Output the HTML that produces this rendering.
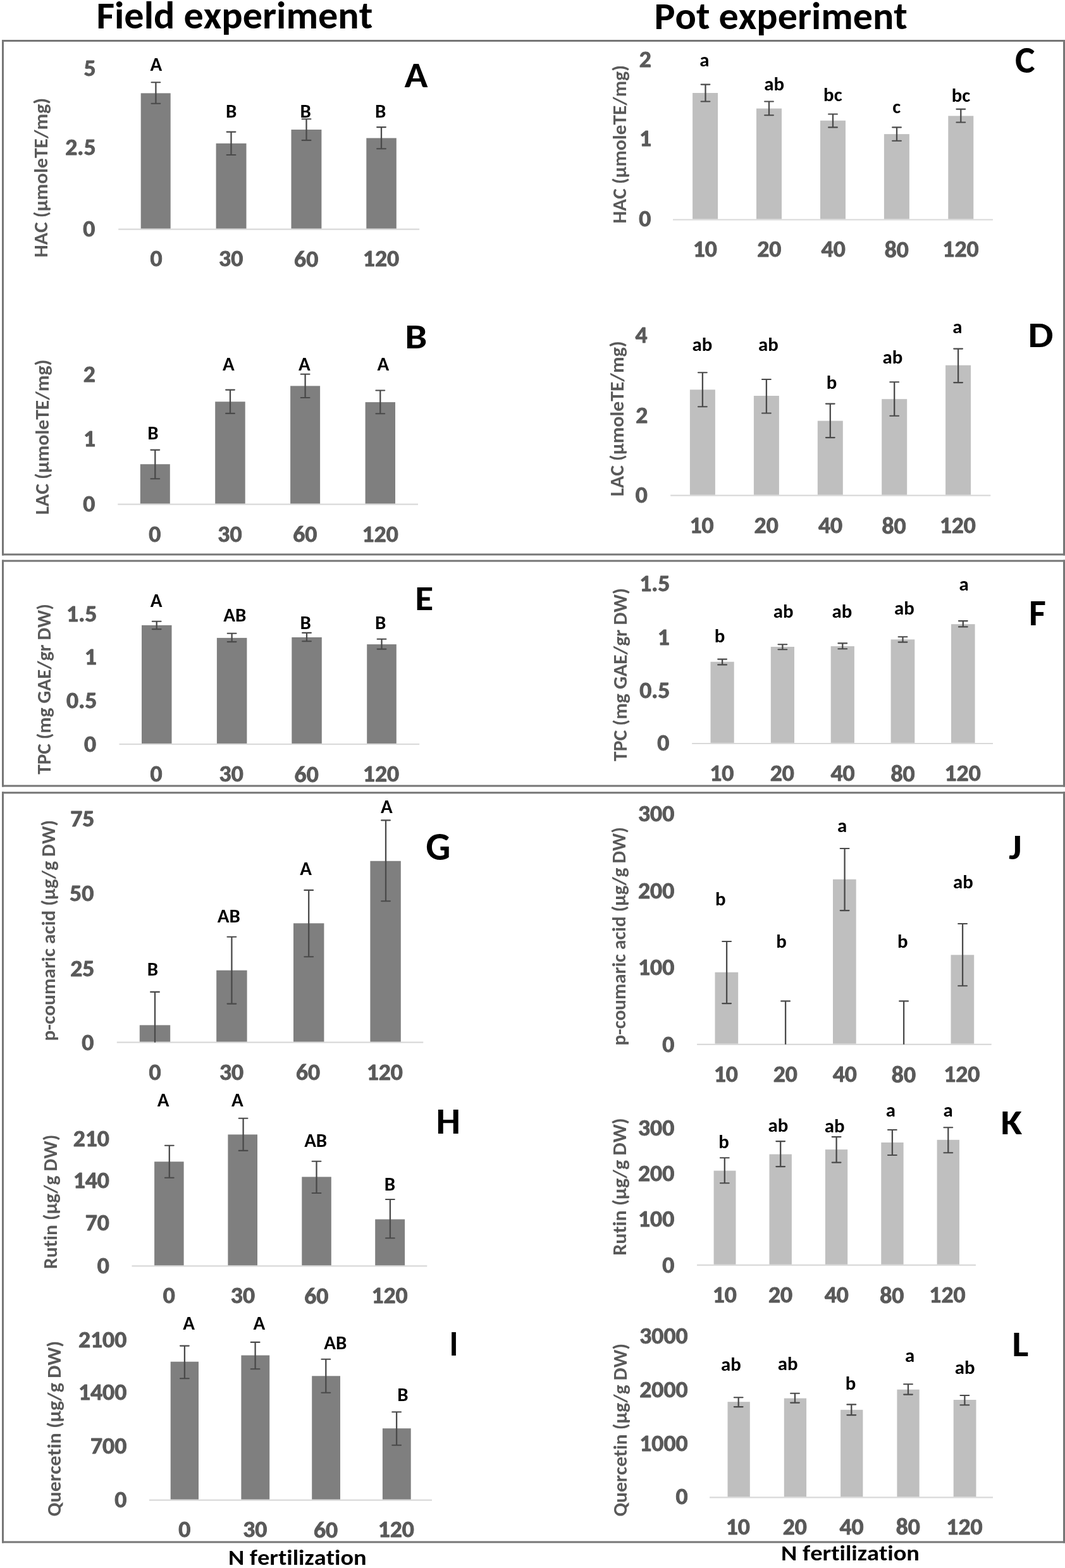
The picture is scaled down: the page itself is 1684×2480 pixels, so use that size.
<!DOCTYPE html>
<html><head><meta charset="utf-8"><title>Field and pot experiment</title>
<style>
html,body{margin:0;padding:0;background:#fff;}
body{width:1684px;height:2480px;overflow:hidden;}
svg{display:block;font-family:Carlito,Calibri,"Liberation Sans",sans-serif;font-kerning:none;font-variant-ligatures:none;}
</style></head><body>
<svg width="1684" height="2480" viewBox="0 0 1684 2480">
<rect x="0" y="0" width="1684" height="2480" fill="#fff"/>
<line x1="187.20" y1="362.60" x2="663.20" y2="362.60" stroke="#d9d9d9" stroke-width="2.20" stroke-linecap="butt"/>
<rect x="222.70" y="147.40" width="47.00" height="214.10" fill="#7f7f7f"/>
<rect x="341.60" y="226.80" width="47.90" height="134.70" fill="#7f7f7f"/>
<rect x="460.50" y="205.00" width="47.90" height="156.50" fill="#7f7f7f"/>
<rect x="579.30" y="218.40" width="47.50" height="143.10" fill="#7f7f7f"/>
<line x1="246.40" y1="130.30" x2="246.40" y2="163.70" stroke="#4a4a4a" stroke-width="2.30" stroke-linecap="butt"/>
<line x1="239.50" y1="130.30" x2="253.30" y2="130.30" stroke="#4a4a4a" stroke-width="2.10" stroke-linecap="round"/>
<line x1="239.50" y1="163.70" x2="253.30" y2="163.70" stroke="#4a4a4a" stroke-width="2.10" stroke-linecap="round"/>
<line x1="365.50" y1="208.60" x2="365.50" y2="245.00" stroke="#4a4a4a" stroke-width="2.30" stroke-linecap="butt"/>
<line x1="358.60" y1="208.60" x2="372.40" y2="208.60" stroke="#4a4a4a" stroke-width="2.10" stroke-linecap="round"/>
<line x1="358.60" y1="245.00" x2="372.40" y2="245.00" stroke="#4a4a4a" stroke-width="2.10" stroke-linecap="round"/>
<line x1="484.50" y1="188.20" x2="484.50" y2="221.90" stroke="#4a4a4a" stroke-width="2.30" stroke-linecap="butt"/>
<line x1="477.60" y1="188.20" x2="491.40" y2="188.20" stroke="#4a4a4a" stroke-width="2.10" stroke-linecap="round"/>
<line x1="477.60" y1="221.90" x2="491.40" y2="221.90" stroke="#4a4a4a" stroke-width="2.10" stroke-linecap="round"/>
<line x1="603.00" y1="201.10" x2="603.00" y2="235.20" stroke="#4a4a4a" stroke-width="2.30" stroke-linecap="butt"/>
<line x1="596.10" y1="201.10" x2="609.90" y2="201.10" stroke="#4a4a4a" stroke-width="2.10" stroke-linecap="round"/>
<line x1="596.10" y1="235.20" x2="609.90" y2="235.20" stroke="#4a4a4a" stroke-width="2.10" stroke-linecap="round"/>
<text x="132.40" y="120.21" font-size="36.50" font-weight="700" fill="#595959" textLength="19.05" lengthAdjust="spacingAndGlyphs" stroke="#595959" stroke-width="0.90" stroke-linejoin="round">5</text>
<text x="103.31" y="244.94" font-size="36.50" font-weight="700" fill="#595959" textLength="48.15" lengthAdjust="spacingAndGlyphs" stroke="#595959" stroke-width="0.90" stroke-linejoin="round">2.5</text>
<text x="131.27" y="373.64" font-size="36.50" font-weight="700" fill="#595959" textLength="19.05" lengthAdjust="spacingAndGlyphs" stroke="#595959" stroke-width="0.90" stroke-linejoin="round">0</text>
<text x="237.47" y="421.44" font-size="36.50" font-weight="700" fill="#595959" textLength="19.05" lengthAdjust="spacingAndGlyphs" stroke="#595959" stroke-width="0.90" stroke-linejoin="round">0</text>
<text x="346.13" y="421.44" font-size="36.50" font-weight="700" fill="#595959" textLength="38.11" lengthAdjust="spacingAndGlyphs" stroke="#595959" stroke-width="0.90" stroke-linejoin="round">30</text>
<text x="465.12" y="421.92" font-size="36.50" font-weight="700" fill="#595959" textLength="38.11" lengthAdjust="spacingAndGlyphs" stroke="#595959" stroke-width="0.90" stroke-linejoin="round">60</text>
<text x="573.85" y="421.44" font-size="36.50" font-weight="700" fill="#595959" textLength="57.16" lengthAdjust="spacingAndGlyphs" stroke="#595959" stroke-width="0.90" stroke-linejoin="round">120</text>
<text x="237.62" y="111.90" font-size="30.00" font-weight="700" fill="#000" textLength="18.72" lengthAdjust="spacingAndGlyphs">A</text>
<text x="356.95" y="186.00" font-size="30.00" font-weight="700" fill="#000" textLength="17.32" lengthAdjust="spacingAndGlyphs">B</text>
<text x="474.45" y="186.00" font-size="30.00" font-weight="700" fill="#000" textLength="17.32" lengthAdjust="spacingAndGlyphs">B</text>
<text x="592.95" y="186.00" font-size="30.00" font-weight="700" fill="#000" textLength="17.32" lengthAdjust="spacingAndGlyphs">B</text>
<text x="639.58" y="137.60" font-size="56.75" font-weight="700" fill="#000" textLength="36.95" lengthAdjust="spacingAndGlyphs">A</text>
<text transform="translate(75.00 407.14) rotate(-90)" x="0" y="0" font-size="30.00" fill="#595959"><tspan font-weight="700" textLength="252.27" lengthAdjust="spacingAndGlyphs">HAC (µmoleTE/mg)</tspan></text>
<line x1="186.30" y1="797.60" x2="661.00" y2="797.60" stroke="#d9d9d9" stroke-width="2.20" stroke-linecap="butt"/>
<rect x="221.80" y="734.20" width="47.00" height="62.30" fill="#7f7f7f"/>
<rect x="340.20" y="635.30" width="47.50" height="161.20" fill="#7f7f7f"/>
<rect x="459.10" y="610.40" width="47.00" height="186.10" fill="#7f7f7f"/>
<rect x="577.60" y="636.10" width="47.40" height="160.40" fill="#7f7f7f"/>
<line x1="245.30" y1="711.60" x2="245.30" y2="757.30" stroke="#4a4a4a" stroke-width="2.30" stroke-linecap="butt"/>
<line x1="238.40" y1="711.60" x2="252.20" y2="711.60" stroke="#4a4a4a" stroke-width="2.10" stroke-linecap="round"/>
<line x1="238.40" y1="757.30" x2="252.20" y2="757.30" stroke="#4a4a4a" stroke-width="2.10" stroke-linecap="round"/>
<line x1="364.00" y1="616.60" x2="364.00" y2="653.90" stroke="#4a4a4a" stroke-width="2.30" stroke-linecap="butt"/>
<line x1="357.10" y1="616.60" x2="370.90" y2="616.60" stroke="#4a4a4a" stroke-width="2.10" stroke-linecap="round"/>
<line x1="357.10" y1="653.90" x2="370.90" y2="653.90" stroke="#4a4a4a" stroke-width="2.10" stroke-linecap="round"/>
<line x1="482.60" y1="591.80" x2="482.60" y2="629.00" stroke="#4a4a4a" stroke-width="2.30" stroke-linecap="butt"/>
<line x1="475.70" y1="591.80" x2="489.50" y2="591.80" stroke="#4a4a4a" stroke-width="2.10" stroke-linecap="round"/>
<line x1="475.70" y1="629.00" x2="489.50" y2="629.00" stroke="#4a4a4a" stroke-width="2.10" stroke-linecap="round"/>
<line x1="601.30" y1="617.50" x2="601.30" y2="654.30" stroke="#4a4a4a" stroke-width="2.30" stroke-linecap="butt"/>
<line x1="594.40" y1="617.50" x2="608.20" y2="617.50" stroke="#4a4a4a" stroke-width="2.10" stroke-linecap="round"/>
<line x1="594.40" y1="654.30" x2="608.20" y2="654.30" stroke="#4a4a4a" stroke-width="2.10" stroke-linecap="round"/>
<text x="131.80" y="603.87" font-size="36.50" font-weight="700" fill="#595959" textLength="19.05" lengthAdjust="spacingAndGlyphs" stroke="#595959" stroke-width="0.90" stroke-linejoin="round">2</text>
<text x="131.91" y="705.75" font-size="36.50" font-weight="700" fill="#595959" textLength="19.05" lengthAdjust="spacingAndGlyphs" stroke="#595959" stroke-width="0.90" stroke-linejoin="round">1</text>
<text x="131.27" y="808.64" font-size="36.50" font-weight="700" fill="#595959" textLength="19.05" lengthAdjust="spacingAndGlyphs" stroke="#595959" stroke-width="0.90" stroke-linejoin="round">0</text>
<text x="235.37" y="856.64" font-size="36.50" font-weight="700" fill="#595959" textLength="19.05" lengthAdjust="spacingAndGlyphs" stroke="#595959" stroke-width="0.90" stroke-linejoin="round">0</text>
<text x="344.33" y="856.64" font-size="36.50" font-weight="700" fill="#595959" textLength="38.11" lengthAdjust="spacingAndGlyphs" stroke="#595959" stroke-width="0.90" stroke-linejoin="round">30</text>
<text x="463.32" y="857.12" font-size="36.50" font-weight="700" fill="#595959" textLength="38.11" lengthAdjust="spacingAndGlyphs" stroke="#595959" stroke-width="0.90" stroke-linejoin="round">60</text>
<text x="572.55" y="856.64" font-size="36.50" font-weight="700" fill="#595959" textLength="57.16" lengthAdjust="spacingAndGlyphs" stroke="#595959" stroke-width="0.90" stroke-linejoin="round">120</text>
<text x="233.15" y="694.70" font-size="30.00" font-weight="700" fill="#000" textLength="17.32" lengthAdjust="spacingAndGlyphs">B</text>
<text x="352.12" y="585.60" font-size="30.00" font-weight="700" fill="#000" textLength="18.72" lengthAdjust="spacingAndGlyphs">A</text>
<text x="471.92" y="585.60" font-size="30.00" font-weight="700" fill="#000" textLength="18.72" lengthAdjust="spacingAndGlyphs">A</text>
<text x="596.62" y="585.60" font-size="30.00" font-weight="700" fill="#000" textLength="18.72" lengthAdjust="spacingAndGlyphs">A</text>
<text x="640.36" y="551.00" font-size="54.75" font-weight="700" fill="#000" textLength="35.08" lengthAdjust="spacingAndGlyphs">B</text>
<text transform="translate(77.40 814.27) rotate(-90)" x="0" y="0" font-size="30.00" fill="#595959"><tspan font-weight="700" textLength="245.60" lengthAdjust="spacingAndGlyphs">LAC (µmoleTE/mg)</tspan></text>
<line x1="1064.00" y1="347.50" x2="1570.00" y2="347.50" stroke="#d9d9d9" stroke-width="2.20" stroke-linecap="butt"/>
<rect x="1095.10" y="147.00" width="40.00" height="199.40" fill="#bfbfbf"/>
<rect x="1196.00" y="171.60" width="40.00" height="174.80" fill="#bfbfbf"/>
<rect x="1297.00" y="190.70" width="40.00" height="155.70" fill="#bfbfbf"/>
<rect x="1397.90" y="212.10" width="40.00" height="134.30" fill="#bfbfbf"/>
<rect x="1499.30" y="183.30" width="40.00" height="163.10" fill="#bfbfbf"/>
<line x1="1115.50" y1="133.60" x2="1115.50" y2="160.50" stroke="#4a4a4a" stroke-width="2.30" stroke-linecap="butt"/>
<line x1="1108.60" y1="133.60" x2="1122.40" y2="133.60" stroke="#4a4a4a" stroke-width="2.10" stroke-linecap="round"/>
<line x1="1108.60" y1="160.50" x2="1122.40" y2="160.50" stroke="#4a4a4a" stroke-width="2.10" stroke-linecap="round"/>
<line x1="1216.00" y1="160.50" x2="1216.00" y2="182.30" stroke="#4a4a4a" stroke-width="2.30" stroke-linecap="butt"/>
<line x1="1209.10" y1="160.50" x2="1222.90" y2="160.50" stroke="#4a4a4a" stroke-width="2.10" stroke-linecap="round"/>
<line x1="1209.10" y1="182.30" x2="1222.90" y2="182.30" stroke="#4a4a4a" stroke-width="2.10" stroke-linecap="round"/>
<line x1="1317.00" y1="180.50" x2="1317.00" y2="201.40" stroke="#4a4a4a" stroke-width="2.30" stroke-linecap="butt"/>
<line x1="1310.10" y1="180.50" x2="1323.90" y2="180.50" stroke="#4a4a4a" stroke-width="2.10" stroke-linecap="round"/>
<line x1="1310.10" y1="201.40" x2="1323.90" y2="201.40" stroke="#4a4a4a" stroke-width="2.10" stroke-linecap="round"/>
<line x1="1418.00" y1="201.40" x2="1418.00" y2="222.80" stroke="#4a4a4a" stroke-width="2.30" stroke-linecap="butt"/>
<line x1="1411.10" y1="201.40" x2="1424.90" y2="201.40" stroke="#4a4a4a" stroke-width="2.10" stroke-linecap="round"/>
<line x1="1411.10" y1="222.80" x2="1424.90" y2="222.80" stroke="#4a4a4a" stroke-width="2.10" stroke-linecap="round"/>
<line x1="1519.30" y1="172.60" x2="1519.30" y2="193.50" stroke="#4a4a4a" stroke-width="2.30" stroke-linecap="butt"/>
<line x1="1512.40" y1="172.60" x2="1526.20" y2="172.60" stroke="#4a4a4a" stroke-width="2.10" stroke-linecap="round"/>
<line x1="1512.40" y1="193.50" x2="1526.20" y2="193.50" stroke="#4a4a4a" stroke-width="2.10" stroke-linecap="round"/>
<text x="1010.80" y="105.67" font-size="36.50" font-weight="700" fill="#595959" textLength="19.05" lengthAdjust="spacingAndGlyphs" stroke="#595959" stroke-width="0.90" stroke-linejoin="round">2</text>
<text x="1010.91" y="231.15" font-size="36.50" font-weight="700" fill="#595959" textLength="19.05" lengthAdjust="spacingAndGlyphs" stroke="#595959" stroke-width="0.90" stroke-linejoin="round">1</text>
<text x="1010.27" y="358.14" font-size="36.50" font-weight="700" fill="#595959" textLength="19.05" lengthAdjust="spacingAndGlyphs" stroke="#595959" stroke-width="0.90" stroke-linejoin="round">0</text>
<text x="1095.67" y="406.04" font-size="36.50" font-weight="700" fill="#595959" textLength="38.11" lengthAdjust="spacingAndGlyphs" stroke="#595959" stroke-width="0.90" stroke-linejoin="round">10</text>
<text x="1197.20" y="406.04" font-size="36.50" font-weight="700" fill="#595959" textLength="38.11" lengthAdjust="spacingAndGlyphs" stroke="#595959" stroke-width="0.90" stroke-linejoin="round">20</text>
<text x="1298.59" y="406.04" font-size="36.50" font-weight="700" fill="#595959" textLength="38.11" lengthAdjust="spacingAndGlyphs" stroke="#595959" stroke-width="0.90" stroke-linejoin="round">40</text>
<text x="1398.67" y="406.67" font-size="36.50" font-weight="700" fill="#595959" textLength="38.11" lengthAdjust="spacingAndGlyphs" stroke="#595959" stroke-width="0.90" stroke-linejoin="round">80</text>
<text x="1490.35" y="406.04" font-size="36.50" font-weight="700" fill="#595959" textLength="57.16" lengthAdjust="spacingAndGlyphs" stroke="#595959" stroke-width="0.90" stroke-linejoin="round">120</text>
<text x="1106.32" y="105.10" font-size="30.00" font-weight="700" fill="#000" textLength="15.25" lengthAdjust="spacingAndGlyphs">a</text>
<text x="1208.21" y="142.60" font-size="30.00" font-weight="700" fill="#000" textLength="31.84" lengthAdjust="spacingAndGlyphs">ab</text>
<text x="1302.07" y="159.70" font-size="30.00" font-weight="700" fill="#000" textLength="29.51" lengthAdjust="spacingAndGlyphs">bc</text>
<text x="1411.18" y="179.10" font-size="30.00" font-weight="700" fill="#000" textLength="12.93" lengthAdjust="spacingAndGlyphs">c</text>
<text x="1504.67" y="160.50" font-size="30.00" font-weight="700" fill="#000" textLength="29.51" lengthAdjust="spacingAndGlyphs">bc</text>
<text x="1604.97" y="114.98" font-size="61.12" font-weight="700" fill="#000" textLength="31.64" lengthAdjust="spacingAndGlyphs">C</text>
<text transform="translate(990.40 353.53) rotate(-90)" x="0" y="0" font-size="30.00" fill="#595959"><tspan font-weight="700" textLength="250.55" lengthAdjust="spacingAndGlyphs">HAC (µmoleTE/mg)</tspan></text>
<line x1="1060.20" y1="783.70" x2="1566.30" y2="783.70" stroke="#d9d9d9" stroke-width="2.20" stroke-linecap="butt"/>
<rect x="1090.90" y="616.30" width="40.00" height="166.30" fill="#bfbfbf"/>
<rect x="1191.90" y="626.00" width="40.00" height="156.60" fill="#bfbfbf"/>
<rect x="1292.80" y="665.60" width="40.00" height="117.00" fill="#bfbfbf"/>
<rect x="1394.20" y="631.20" width="40.00" height="151.40" fill="#bfbfbf"/>
<rect x="1495.10" y="577.70" width="40.00" height="204.90" fill="#bfbfbf"/>
<line x1="1110.90" y1="589.30" x2="1110.90" y2="643.30" stroke="#4a4a4a" stroke-width="2.30" stroke-linecap="butt"/>
<line x1="1104.00" y1="589.30" x2="1117.80" y2="589.30" stroke="#4a4a4a" stroke-width="2.10" stroke-linecap="round"/>
<line x1="1104.00" y1="643.30" x2="1117.80" y2="643.30" stroke="#4a4a4a" stroke-width="2.10" stroke-linecap="round"/>
<line x1="1211.90" y1="600.00" x2="1211.90" y2="653.50" stroke="#4a4a4a" stroke-width="2.30" stroke-linecap="butt"/>
<line x1="1205.00" y1="600.00" x2="1218.80" y2="600.00" stroke="#4a4a4a" stroke-width="2.10" stroke-linecap="round"/>
<line x1="1205.00" y1="653.50" x2="1218.80" y2="653.50" stroke="#4a4a4a" stroke-width="2.10" stroke-linecap="round"/>
<line x1="1312.80" y1="638.60" x2="1312.80" y2="692.10" stroke="#4a4a4a" stroke-width="2.30" stroke-linecap="butt"/>
<line x1="1305.90" y1="638.60" x2="1319.70" y2="638.60" stroke="#4a4a4a" stroke-width="2.10" stroke-linecap="round"/>
<line x1="1305.90" y1="692.10" x2="1319.70" y2="692.10" stroke="#4a4a4a" stroke-width="2.10" stroke-linecap="round"/>
<line x1="1414.20" y1="604.20" x2="1414.20" y2="657.70" stroke="#4a4a4a" stroke-width="2.30" stroke-linecap="butt"/>
<line x1="1407.30" y1="604.20" x2="1421.10" y2="604.20" stroke="#4a4a4a" stroke-width="2.10" stroke-linecap="round"/>
<line x1="1407.30" y1="657.70" x2="1421.10" y2="657.70" stroke="#4a4a4a" stroke-width="2.10" stroke-linecap="round"/>
<line x1="1515.10" y1="551.60" x2="1515.10" y2="605.10" stroke="#4a4a4a" stroke-width="2.30" stroke-linecap="butt"/>
<line x1="1508.20" y1="551.60" x2="1522.00" y2="551.60" stroke="#4a4a4a" stroke-width="2.10" stroke-linecap="round"/>
<line x1="1508.20" y1="605.10" x2="1522.00" y2="605.10" stroke="#4a4a4a" stroke-width="2.10" stroke-linecap="round"/>
<text x="1004.56" y="541.84" font-size="36.50" font-weight="700" fill="#595959" textLength="19.05" lengthAdjust="spacingAndGlyphs" stroke="#595959" stroke-width="0.90" stroke-linejoin="round">4</text>
<text x="1005.30" y="668.87" font-size="36.50" font-weight="700" fill="#595959" textLength="19.05" lengthAdjust="spacingAndGlyphs" stroke="#595959" stroke-width="0.90" stroke-linejoin="round">2</text>
<text x="1004.77" y="795.34" font-size="36.50" font-weight="700" fill="#595959" textLength="19.05" lengthAdjust="spacingAndGlyphs" stroke="#595959" stroke-width="0.90" stroke-linejoin="round">0</text>
<text x="1090.57" y="843.14" font-size="36.50" font-weight="700" fill="#595959" textLength="38.11" lengthAdjust="spacingAndGlyphs" stroke="#595959" stroke-width="0.90" stroke-linejoin="round">10</text>
<text x="1192.60" y="843.14" font-size="36.50" font-weight="700" fill="#595959" textLength="38.11" lengthAdjust="spacingAndGlyphs" stroke="#595959" stroke-width="0.90" stroke-linejoin="round">20</text>
<text x="1293.99" y="843.14" font-size="36.50" font-weight="700" fill="#595959" textLength="38.11" lengthAdjust="spacingAndGlyphs" stroke="#595959" stroke-width="0.90" stroke-linejoin="round">40</text>
<text x="1394.47" y="843.77" font-size="36.50" font-weight="700" fill="#595959" textLength="38.11" lengthAdjust="spacingAndGlyphs" stroke="#595959" stroke-width="0.90" stroke-linejoin="round">80</text>
<text x="1485.65" y="843.14" font-size="36.50" font-weight="700" fill="#595959" textLength="57.16" lengthAdjust="spacingAndGlyphs" stroke="#595959" stroke-width="0.90" stroke-linejoin="round">120</text>
<text x="1094.51" y="555.30" font-size="30.00" font-weight="700" fill="#000" textLength="31.84" lengthAdjust="spacingAndGlyphs">ab</text>
<text x="1199.11" y="555.30" font-size="30.00" font-weight="700" fill="#000" textLength="31.84" lengthAdjust="spacingAndGlyphs">ab</text>
<text x="1306.85" y="614.90" font-size="30.00" font-weight="700" fill="#000" textLength="16.58" lengthAdjust="spacingAndGlyphs">b</text>
<text x="1395.41" y="574.90" font-size="30.00" font-weight="700" fill="#000" textLength="31.84" lengthAdjust="spacingAndGlyphs">ab</text>
<text x="1506.32" y="527.40" font-size="30.00" font-weight="700" fill="#000" textLength="15.25" lengthAdjust="spacingAndGlyphs">a</text>
<text x="1625.40" y="548.80" font-size="55.83" font-weight="700" fill="#000" textLength="40.06" lengthAdjust="spacingAndGlyphs">D</text>
<text transform="translate(986.00 785.37) rotate(-90)" x="0" y="0" font-size="30.00" fill="#595959"><tspan font-weight="700" textLength="245.90" lengthAdjust="spacingAndGlyphs">LAC (µmoleTE/mg)</tspan></text>
<line x1="188.50" y1="1177.00" x2="663.20" y2="1177.00" stroke="#d9d9d9" stroke-width="2.20" stroke-linecap="butt"/>
<rect x="224.00" y="988.90" width="47.50" height="187.00" fill="#7f7f7f"/>
<rect x="342.90" y="1008.90" width="47.50" height="167.00" fill="#7f7f7f"/>
<rect x="461.30" y="1008.00" width="47.50" height="167.90" fill="#7f7f7f"/>
<rect x="580.20" y="1019.10" width="46.60" height="156.80" fill="#7f7f7f"/>
<line x1="247.70" y1="982.70" x2="247.70" y2="995.10" stroke="#4a4a4a" stroke-width="2.30" stroke-linecap="butt"/>
<line x1="240.80" y1="982.70" x2="254.60" y2="982.70" stroke="#4a4a4a" stroke-width="2.10" stroke-linecap="round"/>
<line x1="240.80" y1="995.10" x2="254.60" y2="995.10" stroke="#4a4a4a" stroke-width="2.10" stroke-linecap="round"/>
<line x1="366.60" y1="1001.80" x2="366.60" y2="1015.10" stroke="#4a4a4a" stroke-width="2.30" stroke-linecap="butt"/>
<line x1="359.70" y1="1001.80" x2="373.50" y2="1001.80" stroke="#4a4a4a" stroke-width="2.10" stroke-linecap="round"/>
<line x1="359.70" y1="1015.10" x2="373.50" y2="1015.10" stroke="#4a4a4a" stroke-width="2.10" stroke-linecap="round"/>
<line x1="485.00" y1="1000.90" x2="485.00" y2="1014.20" stroke="#4a4a4a" stroke-width="2.30" stroke-linecap="butt"/>
<line x1="478.10" y1="1000.90" x2="491.90" y2="1000.90" stroke="#4a4a4a" stroke-width="2.10" stroke-linecap="round"/>
<line x1="478.10" y1="1014.20" x2="491.90" y2="1014.20" stroke="#4a4a4a" stroke-width="2.10" stroke-linecap="round"/>
<line x1="603.50" y1="1010.70" x2="603.50" y2="1026.60" stroke="#4a4a4a" stroke-width="2.30" stroke-linecap="butt"/>
<line x1="596.60" y1="1010.70" x2="610.40" y2="1010.70" stroke="#4a4a4a" stroke-width="2.10" stroke-linecap="round"/>
<line x1="596.60" y1="1026.60" x2="610.40" y2="1026.60" stroke="#4a4a4a" stroke-width="2.10" stroke-linecap="round"/>
<text x="105.11" y="982.63" font-size="36.50" font-weight="700" fill="#595959" textLength="48.15" lengthAdjust="spacingAndGlyphs" stroke="#595959" stroke-width="0.90" stroke-linejoin="round">1.5</text>
<text x="133.71" y="1050.55" font-size="36.50" font-weight="700" fill="#595959" textLength="19.05" lengthAdjust="spacingAndGlyphs" stroke="#595959" stroke-width="0.90" stroke-linejoin="round">1</text>
<text x="105.11" y="1120.24" font-size="36.50" font-weight="700" fill="#595959" textLength="48.15" lengthAdjust="spacingAndGlyphs" stroke="#595959" stroke-width="0.90" stroke-linejoin="round">0.5</text>
<text x="133.07" y="1188.94" font-size="36.50" font-weight="700" fill="#595959" textLength="19.05" lengthAdjust="spacingAndGlyphs" stroke="#595959" stroke-width="0.90" stroke-linejoin="round">0</text>
<text x="237.57" y="1236.44" font-size="36.50" font-weight="700" fill="#595959" textLength="19.05" lengthAdjust="spacingAndGlyphs" stroke="#595959" stroke-width="0.90" stroke-linejoin="round">0</text>
<text x="346.63" y="1236.44" font-size="36.50" font-weight="700" fill="#595959" textLength="38.11" lengthAdjust="spacingAndGlyphs" stroke="#595959" stroke-width="0.90" stroke-linejoin="round">30</text>
<text x="465.62" y="1236.92" font-size="36.50" font-weight="700" fill="#595959" textLength="38.11" lengthAdjust="spacingAndGlyphs" stroke="#595959" stroke-width="0.90" stroke-linejoin="round">60</text>
<text x="573.85" y="1236.44" font-size="36.50" font-weight="700" fill="#595959" textLength="57.16" lengthAdjust="spacingAndGlyphs" stroke="#595959" stroke-width="0.90" stroke-linejoin="round">120</text>
<text x="237.72" y="960.10" font-size="30.00" font-weight="700" fill="#000" textLength="18.72" lengthAdjust="spacingAndGlyphs">A</text>
<text x="353.35" y="983.20" font-size="30.00" font-weight="700" fill="#000" textLength="36.04" lengthAdjust="spacingAndGlyphs">AB</text>
<text x="474.45" y="995.10" font-size="30.00" font-weight="700" fill="#000" textLength="17.32" lengthAdjust="spacingAndGlyphs">B</text>
<text x="592.95" y="995.10" font-size="30.00" font-weight="700" fill="#000" textLength="17.32" lengthAdjust="spacingAndGlyphs">B</text>
<text x="656.18" y="965.40" font-size="54.75" font-weight="700" fill="#000" textLength="28.95" lengthAdjust="spacingAndGlyphs">E</text>
<text transform="translate(79.90 1224.77) rotate(-90)" x="0" y="0" font-size="30.00" fill="#595959"><tspan font-weight="700" textLength="269.77" lengthAdjust="spacingAndGlyphs">TPC (mg GAE/gr DW)</tspan></text>
<line x1="1094.20" y1="1176.00" x2="1570.00" y2="1176.00" stroke="#d9d9d9" stroke-width="2.20" stroke-linecap="butt"/>
<rect x="1123.50" y="1046.70" width="37.20" height="128.20" fill="#bfbfbf"/>
<rect x="1218.80" y="1023.00" width="37.20" height="151.90" fill="#bfbfbf"/>
<rect x="1313.70" y="1022.10" width="37.20" height="152.80" fill="#bfbfbf"/>
<rect x="1408.60" y="1011.40" width="37.70" height="163.50" fill="#bfbfbf"/>
<rect x="1504.00" y="987.20" width="37.60" height="187.70" fill="#bfbfbf"/>
<line x1="1142.10" y1="1042.60" x2="1142.10" y2="1051.40" stroke="#4a4a4a" stroke-width="2.30" stroke-linecap="butt"/>
<line x1="1135.20" y1="1042.60" x2="1149.00" y2="1042.60" stroke="#4a4a4a" stroke-width="2.10" stroke-linecap="round"/>
<line x1="1135.20" y1="1051.40" x2="1149.00" y2="1051.40" stroke="#4a4a4a" stroke-width="2.10" stroke-linecap="round"/>
<line x1="1237.40" y1="1019.30" x2="1237.40" y2="1027.20" stroke="#4a4a4a" stroke-width="2.30" stroke-linecap="butt"/>
<line x1="1230.50" y1="1019.30" x2="1244.30" y2="1019.30" stroke="#4a4a4a" stroke-width="2.10" stroke-linecap="round"/>
<line x1="1230.50" y1="1027.20" x2="1244.30" y2="1027.20" stroke="#4a4a4a" stroke-width="2.10" stroke-linecap="round"/>
<line x1="1332.30" y1="1017.40" x2="1332.30" y2="1026.30" stroke="#4a4a4a" stroke-width="2.30" stroke-linecap="butt"/>
<line x1="1325.40" y1="1017.40" x2="1339.20" y2="1017.40" stroke="#4a4a4a" stroke-width="2.10" stroke-linecap="round"/>
<line x1="1325.40" y1="1026.30" x2="1339.20" y2="1026.30" stroke="#4a4a4a" stroke-width="2.10" stroke-linecap="round"/>
<line x1="1427.50" y1="1007.20" x2="1427.50" y2="1015.60" stroke="#4a4a4a" stroke-width="2.30" stroke-linecap="butt"/>
<line x1="1420.60" y1="1007.20" x2="1434.40" y2="1007.20" stroke="#4a4a4a" stroke-width="2.10" stroke-linecap="round"/>
<line x1="1420.60" y1="1015.60" x2="1434.40" y2="1015.60" stroke="#4a4a4a" stroke-width="2.10" stroke-linecap="round"/>
<line x1="1522.80" y1="982.10" x2="1522.80" y2="991.40" stroke="#4a4a4a" stroke-width="2.30" stroke-linecap="butt"/>
<line x1="1515.90" y1="982.10" x2="1529.70" y2="982.10" stroke="#4a4a4a" stroke-width="2.10" stroke-linecap="round"/>
<line x1="1515.90" y1="991.40" x2="1529.70" y2="991.40" stroke="#4a4a4a" stroke-width="2.10" stroke-linecap="round"/>
<text x="1011.21" y="935.03" font-size="36.50" font-weight="700" fill="#595959" textLength="48.15" lengthAdjust="spacingAndGlyphs" stroke="#595959" stroke-width="0.90" stroke-linejoin="round">1.5</text>
<text x="1039.81" y="1020.25" font-size="36.50" font-weight="700" fill="#595959" textLength="19.05" lengthAdjust="spacingAndGlyphs" stroke="#595959" stroke-width="0.90" stroke-linejoin="round">1</text>
<text x="1011.21" y="1103.94" font-size="36.50" font-weight="700" fill="#595959" textLength="48.15" lengthAdjust="spacingAndGlyphs" stroke="#595959" stroke-width="0.90" stroke-linejoin="round">0.5</text>
<text x="1039.17" y="1187.24" font-size="36.50" font-weight="700" fill="#595959" textLength="19.05" lengthAdjust="spacingAndGlyphs" stroke="#595959" stroke-width="0.90" stroke-linejoin="round">0</text>
<text x="1122.17" y="1234.94" font-size="36.50" font-weight="700" fill="#595959" textLength="38.11" lengthAdjust="spacingAndGlyphs" stroke="#595959" stroke-width="0.90" stroke-linejoin="round">10</text>
<text x="1217.70" y="1234.94" font-size="36.50" font-weight="700" fill="#595959" textLength="38.11" lengthAdjust="spacingAndGlyphs" stroke="#595959" stroke-width="0.90" stroke-linejoin="round">20</text>
<text x="1313.49" y="1234.94" font-size="36.50" font-weight="700" fill="#595959" textLength="38.11" lengthAdjust="spacingAndGlyphs" stroke="#595959" stroke-width="0.90" stroke-linejoin="round">40</text>
<text x="1408.47" y="1235.57" font-size="36.50" font-weight="700" fill="#595959" textLength="38.11" lengthAdjust="spacingAndGlyphs" stroke="#595959" stroke-width="0.90" stroke-linejoin="round">80</text>
<text x="1493.55" y="1234.94" font-size="36.50" font-weight="700" fill="#595959" textLength="57.16" lengthAdjust="spacingAndGlyphs" stroke="#595959" stroke-width="0.90" stroke-linejoin="round">120</text>
<text x="1129.65" y="1015.60" font-size="30.00" font-weight="700" fill="#000" textLength="16.58" lengthAdjust="spacingAndGlyphs">b</text>
<text x="1222.81" y="976.50" font-size="30.00" font-weight="700" fill="#000" textLength="31.84" lengthAdjust="spacingAndGlyphs">ab</text>
<text x="1315.41" y="977.40" font-size="30.00" font-weight="700" fill="#000" textLength="31.84" lengthAdjust="spacingAndGlyphs">ab</text>
<text x="1414.01" y="971.90" font-size="30.00" font-weight="700" fill="#000" textLength="31.84" lengthAdjust="spacingAndGlyphs">ab</text>
<text x="1516.62" y="934.20" font-size="30.00" font-weight="700" fill="#000" textLength="15.25" lengthAdjust="spacingAndGlyphs">a</text>
<text x="1626.89" y="988.60" font-size="58.76" font-weight="700" fill="#000" textLength="26.84" lengthAdjust="spacingAndGlyphs">F</text>
<text transform="translate(991.20 1203.98) rotate(-90)" x="0" y="0" font-size="30.00" fill="#595959"><tspan font-weight="700" textLength="273.80" lengthAdjust="spacingAndGlyphs">TPC (mg GAE/gr DW)</tspan></text>
<line x1="184.80" y1="1648.70" x2="669.30" y2="1648.70" stroke="#d9d9d9" stroke-width="2.20" stroke-linecap="butt"/>
<rect x="220.80" y="1621.40" width="48.40" height="26.20" fill="#7f7f7f"/>
<rect x="342.20" y="1534.70" width="48.40" height="112.90" fill="#7f7f7f"/>
<rect x="464.00" y="1460.30" width="48.40" height="187.30" fill="#7f7f7f"/>
<rect x="585.40" y="1361.80" width="48.40" height="285.80" fill="#7f7f7f"/>
<line x1="245.00" y1="1568.90" x2="245.00" y2="1648.70" stroke="#4a4a4a" stroke-width="2.30" stroke-linecap="butt"/>
<line x1="238.10" y1="1568.90" x2="251.90" y2="1568.90" stroke="#4a4a4a" stroke-width="2.10" stroke-linecap="round"/>
<line x1="366.40" y1="1481.80" x2="366.40" y2="1587.60" stroke="#4a4a4a" stroke-width="2.30" stroke-linecap="butt"/>
<line x1="359.50" y1="1481.80" x2="373.30" y2="1481.80" stroke="#4a4a4a" stroke-width="2.10" stroke-linecap="round"/>
<line x1="359.50" y1="1587.60" x2="373.30" y2="1587.60" stroke="#4a4a4a" stroke-width="2.10" stroke-linecap="round"/>
<line x1="488.20" y1="1407.90" x2="488.20" y2="1513.20" stroke="#4a4a4a" stroke-width="2.30" stroke-linecap="butt"/>
<line x1="481.30" y1="1407.90" x2="495.10" y2="1407.90" stroke="#4a4a4a" stroke-width="2.10" stroke-linecap="round"/>
<line x1="481.30" y1="1513.20" x2="495.10" y2="1513.20" stroke="#4a4a4a" stroke-width="2.10" stroke-linecap="round"/>
<line x1="610.00" y1="1297.40" x2="610.00" y2="1425.20" stroke="#4a4a4a" stroke-width="2.30" stroke-linecap="butt"/>
<line x1="603.10" y1="1297.40" x2="616.90" y2="1297.40" stroke="#4a4a4a" stroke-width="2.10" stroke-linecap="round"/>
<line x1="603.10" y1="1425.20" x2="616.90" y2="1425.20" stroke="#4a4a4a" stroke-width="2.10" stroke-linecap="round"/>
<text x="111.25" y="1306.61" font-size="36.50" font-weight="700" fill="#595959" textLength="38.11" lengthAdjust="spacingAndGlyphs" stroke="#595959" stroke-width="0.90" stroke-linejoin="round">75</text>
<text x="110.11" y="1425.34" font-size="36.50" font-weight="700" fill="#595959" textLength="38.11" lengthAdjust="spacingAndGlyphs" stroke="#595959" stroke-width="0.90" stroke-linejoin="round">50</text>
<text x="111.25" y="1543.94" font-size="36.50" font-weight="700" fill="#595959" textLength="38.11" lengthAdjust="spacingAndGlyphs" stroke="#595959" stroke-width="0.90" stroke-linejoin="round">25</text>
<text x="129.17" y="1660.74" font-size="36.50" font-weight="700" fill="#595959" textLength="19.05" lengthAdjust="spacingAndGlyphs" stroke="#595959" stroke-width="0.90" stroke-linejoin="round">0</text>
<text x="235.47" y="1707.64" font-size="36.50" font-weight="700" fill="#595959" textLength="19.05" lengthAdjust="spacingAndGlyphs" stroke="#595959" stroke-width="0.90" stroke-linejoin="round">0</text>
<text x="347.03" y="1707.64" font-size="36.50" font-weight="700" fill="#595959" textLength="38.11" lengthAdjust="spacingAndGlyphs" stroke="#595959" stroke-width="0.90" stroke-linejoin="round">30</text>
<text x="468.02" y="1708.12" font-size="36.50" font-weight="700" fill="#595959" textLength="38.11" lengthAdjust="spacingAndGlyphs" stroke="#595959" stroke-width="0.90" stroke-linejoin="round">60</text>
<text x="579.65" y="1707.64" font-size="36.50" font-weight="700" fill="#595959" textLength="57.16" lengthAdjust="spacingAndGlyphs" stroke="#595959" stroke-width="0.90" stroke-linejoin="round">120</text>
<text x="232.75" y="1543.40" font-size="30.00" font-weight="700" fill="#000" textLength="17.32" lengthAdjust="spacingAndGlyphs">B</text>
<text x="343.85" y="1458.50" font-size="30.00" font-weight="700" fill="#000" textLength="36.04" lengthAdjust="spacingAndGlyphs">AB</text>
<text x="474.22" y="1384.10" font-size="30.00" font-weight="700" fill="#000" textLength="18.72" lengthAdjust="spacingAndGlyphs">A</text>
<text x="602.02" y="1286.00" font-size="30.00" font-weight="700" fill="#000" textLength="18.72" lengthAdjust="spacingAndGlyphs">A</text>
<text x="673.18" y="1360.37" font-size="62.33" font-weight="700" fill="#000" textLength="39.13" lengthAdjust="spacingAndGlyphs">G</text>
<text transform="translate(86.80 1646.38) rotate(-90)" x="0" y="0" font-size="30.00" fill="#595959"><tspan font-weight="700" textLength="349.50" lengthAdjust="spacingAndGlyphs">p-coumaric acid (µg/g DW)</tspan></text>
<line x1="208.50" y1="2002.40" x2="675.30" y2="2002.40" stroke="#d9d9d9" stroke-width="2.20" stroke-linecap="butt"/>
<rect x="244.10" y="1837.30" width="46.50" height="164.00" fill="#7f7f7f"/>
<rect x="360.40" y="1794.40" width="46.60" height="206.90" fill="#7f7f7f"/>
<rect x="477.30" y="1861.40" width="46.50" height="139.90" fill="#7f7f7f"/>
<rect x="593.20" y="1928.50" width="46.90" height="72.80" fill="#7f7f7f"/>
<line x1="267.80" y1="1811.70" x2="267.80" y2="1862.80" stroke="#4a4a4a" stroke-width="2.30" stroke-linecap="butt"/>
<line x1="260.90" y1="1811.70" x2="274.70" y2="1811.70" stroke="#4a4a4a" stroke-width="2.10" stroke-linecap="round"/>
<line x1="260.90" y1="1862.80" x2="274.70" y2="1862.80" stroke="#4a4a4a" stroke-width="2.10" stroke-linecap="round"/>
<line x1="384.60" y1="1768.80" x2="384.60" y2="1819.90" stroke="#4a4a4a" stroke-width="2.30" stroke-linecap="butt"/>
<line x1="377.70" y1="1768.80" x2="391.50" y2="1768.80" stroke="#4a4a4a" stroke-width="2.10" stroke-linecap="round"/>
<line x1="377.70" y1="1819.90" x2="391.50" y2="1819.90" stroke="#4a4a4a" stroke-width="2.10" stroke-linecap="round"/>
<line x1="500.50" y1="1836.80" x2="500.50" y2="1887.00" stroke="#4a4a4a" stroke-width="2.30" stroke-linecap="butt"/>
<line x1="493.60" y1="1836.80" x2="507.40" y2="1836.80" stroke="#4a4a4a" stroke-width="2.10" stroke-linecap="round"/>
<line x1="493.60" y1="1887.00" x2="507.40" y2="1887.00" stroke="#4a4a4a" stroke-width="2.10" stroke-linecap="round"/>
<line x1="616.90" y1="1897.00" x2="616.90" y2="1958.20" stroke="#4a4a4a" stroke-width="2.30" stroke-linecap="butt"/>
<line x1="610.00" y1="1897.00" x2="623.80" y2="1897.00" stroke="#4a4a4a" stroke-width="2.10" stroke-linecap="round"/>
<line x1="610.00" y1="1958.20" x2="623.80" y2="1958.20" stroke="#4a4a4a" stroke-width="2.10" stroke-linecap="round"/>
<text x="115.66" y="1812.74" font-size="36.50" font-weight="700" fill="#595959" textLength="57.16" lengthAdjust="spacingAndGlyphs" stroke="#595959" stroke-width="0.90" stroke-linejoin="round">210</text>
<text x="115.66" y="1879.34" font-size="36.50" font-weight="700" fill="#595959" textLength="57.16" lengthAdjust="spacingAndGlyphs" stroke="#595959" stroke-width="0.90" stroke-linejoin="round">140</text>
<text x="134.71" y="1946.04" font-size="36.50" font-weight="700" fill="#595959" textLength="38.11" lengthAdjust="spacingAndGlyphs" stroke="#595959" stroke-width="0.90" stroke-linejoin="round">70</text>
<text x="153.77" y="2013.54" font-size="36.50" font-weight="700" fill="#595959" textLength="19.05" lengthAdjust="spacingAndGlyphs" stroke="#595959" stroke-width="0.90" stroke-linejoin="round">0</text>
<text x="257.87" y="2061.24" font-size="36.50" font-weight="700" fill="#595959" textLength="19.05" lengthAdjust="spacingAndGlyphs" stroke="#595959" stroke-width="0.90" stroke-linejoin="round">0</text>
<text x="364.83" y="2061.24" font-size="36.50" font-weight="700" fill="#595959" textLength="38.11" lengthAdjust="spacingAndGlyphs" stroke="#595959" stroke-width="0.90" stroke-linejoin="round">30</text>
<text x="481.22" y="2061.72" font-size="36.50" font-weight="700" fill="#595959" textLength="38.11" lengthAdjust="spacingAndGlyphs" stroke="#595959" stroke-width="0.90" stroke-linejoin="round">60</text>
<text x="587.45" y="2061.24" font-size="36.50" font-weight="700" fill="#595959" textLength="57.16" lengthAdjust="spacingAndGlyphs" stroke="#595959" stroke-width="0.90" stroke-linejoin="round">120</text>
<text x="248.82" y="1749.70" font-size="30.00" font-weight="700" fill="#000" textLength="18.72" lengthAdjust="spacingAndGlyphs">A</text>
<text x="366.12" y="1749.70" font-size="30.00" font-weight="700" fill="#000" textLength="18.72" lengthAdjust="spacingAndGlyphs">A</text>
<text x="481.15" y="1813.50" font-size="30.00" font-weight="700" fill="#000" textLength="36.04" lengthAdjust="spacingAndGlyphs">AB</text>
<text x="607.85" y="1883.30" font-size="30.00" font-weight="700" fill="#000" textLength="17.32" lengthAdjust="spacingAndGlyphs">B</text>
<text x="689.53" y="1793.10" font-size="59.07" font-weight="700" fill="#000" textLength="38.54" lengthAdjust="spacingAndGlyphs">H</text>
<text transform="translate(90.10 2007.01) rotate(-90)" x="0" y="0" font-size="30.00" fill="#595959"><tspan font-weight="700" textLength="212.52" lengthAdjust="spacingAndGlyphs">Rutin (µg/g DW)</tspan></text>
<line x1="236.00" y1="2372.60" x2="683.00" y2="2372.60" stroke="#d9d9d9" stroke-width="2.20" stroke-linecap="butt"/>
<rect x="269.70" y="2153.70" width="44.30" height="217.80" fill="#7f7f7f"/>
<rect x="381.40" y="2143.60" width="44.80" height="227.90" fill="#7f7f7f"/>
<rect x="493.20" y="2176.30" width="44.80" height="195.20" fill="#7f7f7f"/>
<rect x="604.90" y="2259.20" width="44.80" height="112.30" fill="#7f7f7f"/>
<line x1="291.90" y1="2128.60" x2="291.90" y2="2180.20" stroke="#4a4a4a" stroke-width="2.30" stroke-linecap="butt"/>
<line x1="285.00" y1="2128.60" x2="298.80" y2="2128.60" stroke="#4a4a4a" stroke-width="2.10" stroke-linecap="round"/>
<line x1="285.00" y1="2180.20" x2="298.80" y2="2180.20" stroke="#4a4a4a" stroke-width="2.10" stroke-linecap="round"/>
<line x1="403.60" y1="2122.90" x2="403.60" y2="2165.20" stroke="#4a4a4a" stroke-width="2.30" stroke-linecap="butt"/>
<line x1="396.70" y1="2122.90" x2="410.50" y2="2122.90" stroke="#4a4a4a" stroke-width="2.10" stroke-linecap="round"/>
<line x1="396.70" y1="2165.20" x2="410.50" y2="2165.20" stroke="#4a4a4a" stroke-width="2.10" stroke-linecap="round"/>
<line x1="515.30" y1="2149.80" x2="515.30" y2="2202.80" stroke="#4a4a4a" stroke-width="2.30" stroke-linecap="butt"/>
<line x1="508.40" y1="2149.80" x2="522.20" y2="2149.80" stroke="#4a4a4a" stroke-width="2.10" stroke-linecap="round"/>
<line x1="508.40" y1="2202.80" x2="522.20" y2="2202.80" stroke="#4a4a4a" stroke-width="2.10" stroke-linecap="round"/>
<line x1="627.10" y1="2233.20" x2="627.10" y2="2285.70" stroke="#4a4a4a" stroke-width="2.30" stroke-linecap="butt"/>
<line x1="620.20" y1="2233.20" x2="634.00" y2="2233.20" stroke="#4a4a4a" stroke-width="2.10" stroke-linecap="round"/>
<line x1="620.20" y1="2285.70" x2="634.00" y2="2285.70" stroke="#4a4a4a" stroke-width="2.10" stroke-linecap="round"/>
<text x="124.00" y="2131.34" font-size="36.50" font-weight="700" fill="#595959" textLength="76.22" lengthAdjust="spacingAndGlyphs" stroke="#595959" stroke-width="0.90" stroke-linejoin="round">2100</text>
<text x="124.00" y="2214.14" font-size="36.50" font-weight="700" fill="#595959" textLength="76.22" lengthAdjust="spacingAndGlyphs" stroke="#595959" stroke-width="0.90" stroke-linejoin="round">1400</text>
<text x="143.06" y="2299.44" font-size="36.50" font-weight="700" fill="#595959" textLength="57.16" lengthAdjust="spacingAndGlyphs" stroke="#595959" stroke-width="0.90" stroke-linejoin="round">700</text>
<text x="181.17" y="2383.64" font-size="36.50" font-weight="700" fill="#595959" textLength="19.05" lengthAdjust="spacingAndGlyphs" stroke="#595959" stroke-width="0.90" stroke-linejoin="round">0</text>
<text x="282.37" y="2431.34" font-size="36.50" font-weight="700" fill="#595959" textLength="19.05" lengthAdjust="spacingAndGlyphs" stroke="#595959" stroke-width="0.90" stroke-linejoin="round">0</text>
<text x="384.23" y="2431.34" font-size="36.50" font-weight="700" fill="#595959" textLength="38.11" lengthAdjust="spacingAndGlyphs" stroke="#595959" stroke-width="0.90" stroke-linejoin="round">30</text>
<text x="496.02" y="2431.82" font-size="36.50" font-weight="700" fill="#595959" textLength="38.11" lengthAdjust="spacingAndGlyphs" stroke="#595959" stroke-width="0.90" stroke-linejoin="round">60</text>
<text x="597.65" y="2431.34" font-size="36.50" font-weight="700" fill="#595959" textLength="57.16" lengthAdjust="spacingAndGlyphs" stroke="#595959" stroke-width="0.90" stroke-linejoin="round">120</text>
<text x="289.22" y="2103.10" font-size="30.00" font-weight="700" fill="#000" textLength="18.72" lengthAdjust="spacingAndGlyphs">A</text>
<text x="400.52" y="2103.10" font-size="30.00" font-weight="700" fill="#000" textLength="18.72" lengthAdjust="spacingAndGlyphs">A</text>
<text x="512.25" y="2134.40" font-size="30.00" font-weight="700" fill="#000" textLength="36.04" lengthAdjust="spacingAndGlyphs">AB</text>
<text x="628.15" y="2216.30" font-size="30.00" font-weight="700" fill="#000" textLength="17.32" lengthAdjust="spacingAndGlyphs">B</text>
<text x="710.57" y="2143.60" font-size="57.21" font-weight="700" fill="#000" textLength="14.06" lengthAdjust="spacingAndGlyphs">I</text>
<text transform="translate(96.20 2398.41) rotate(-90)" x="0" y="0" font-size="30.00" fill="#595959"><tspan font-weight="700" textLength="277.66" lengthAdjust="spacingAndGlyphs">Quercetin (µg/g DW)</tspan></text>
<line x1="1102.10" y1="1651.80" x2="1567.70" y2="1651.80" stroke="#d9d9d9" stroke-width="2.20" stroke-linecap="butt"/>
<rect x="1130.50" y="1537.80" width="36.70" height="112.90" fill="#bfbfbf"/>
<rect x="1317.00" y="1390.80" width="36.70" height="259.90" fill="#bfbfbf"/>
<rect x="1503.50" y="1510.30" width="36.70" height="140.40" fill="#bfbfbf"/>
<line x1="1149.10" y1="1489.00" x2="1149.10" y2="1587.10" stroke="#4a4a4a" stroke-width="2.30" stroke-linecap="butt"/>
<line x1="1142.20" y1="1489.00" x2="1156.00" y2="1489.00" stroke="#4a4a4a" stroke-width="2.10" stroke-linecap="round"/>
<line x1="1142.20" y1="1587.10" x2="1156.00" y2="1587.10" stroke="#4a4a4a" stroke-width="2.10" stroke-linecap="round"/>
<line x1="1242.10" y1="1583.40" x2="1242.10" y2="1651.80" stroke="#4a4a4a" stroke-width="2.30" stroke-linecap="butt"/>
<line x1="1235.20" y1="1583.40" x2="1249.00" y2="1583.40" stroke="#4a4a4a" stroke-width="2.10" stroke-linecap="round"/>
<line x1="1335.60" y1="1342.00" x2="1335.60" y2="1440.10" stroke="#4a4a4a" stroke-width="2.30" stroke-linecap="butt"/>
<line x1="1328.70" y1="1342.00" x2="1342.50" y2="1342.00" stroke="#4a4a4a" stroke-width="2.10" stroke-linecap="round"/>
<line x1="1328.70" y1="1440.10" x2="1342.50" y2="1440.10" stroke="#4a4a4a" stroke-width="2.10" stroke-linecap="round"/>
<line x1="1429.10" y1="1583.40" x2="1429.10" y2="1651.80" stroke="#4a4a4a" stroke-width="2.30" stroke-linecap="butt"/>
<line x1="1422.20" y1="1583.40" x2="1436.00" y2="1583.40" stroke="#4a4a4a" stroke-width="2.10" stroke-linecap="round"/>
<line x1="1522.10" y1="1461.00" x2="1522.10" y2="1559.20" stroke="#4a4a4a" stroke-width="2.30" stroke-linecap="butt"/>
<line x1="1515.20" y1="1461.00" x2="1529.00" y2="1461.00" stroke="#4a4a4a" stroke-width="2.10" stroke-linecap="round"/>
<line x1="1515.20" y1="1559.20" x2="1529.00" y2="1559.20" stroke="#4a4a4a" stroke-width="2.10" stroke-linecap="round"/>
<text x="1009.06" y="1299.14" font-size="36.50" font-weight="700" fill="#595959" textLength="57.16" lengthAdjust="spacingAndGlyphs" stroke="#595959" stroke-width="0.90" stroke-linejoin="round">300</text>
<text x="1009.06" y="1420.54" font-size="36.50" font-weight="700" fill="#595959" textLength="57.16" lengthAdjust="spacingAndGlyphs" stroke="#595959" stroke-width="0.90" stroke-linejoin="round">200</text>
<text x="1009.06" y="1542.34" font-size="36.50" font-weight="700" fill="#595959" textLength="57.16" lengthAdjust="spacingAndGlyphs" stroke="#595959" stroke-width="0.90" stroke-linejoin="round">100</text>
<text x="1047.17" y="1663.74" font-size="36.50" font-weight="700" fill="#595959" textLength="19.05" lengthAdjust="spacingAndGlyphs" stroke="#595959" stroke-width="0.90" stroke-linejoin="round">0</text>
<text x="1128.67" y="1711.44" font-size="36.50" font-weight="700" fill="#595959" textLength="38.11" lengthAdjust="spacingAndGlyphs" stroke="#595959" stroke-width="0.90" stroke-linejoin="round">10</text>
<text x="1222.80" y="1711.44" font-size="36.50" font-weight="700" fill="#595959" textLength="38.11" lengthAdjust="spacingAndGlyphs" stroke="#595959" stroke-width="0.90" stroke-linejoin="round">20</text>
<text x="1316.79" y="1711.44" font-size="36.50" font-weight="700" fill="#595959" textLength="38.11" lengthAdjust="spacingAndGlyphs" stroke="#595959" stroke-width="0.90" stroke-linejoin="round">40</text>
<text x="1409.87" y="1712.07" font-size="36.50" font-weight="700" fill="#595959" textLength="38.11" lengthAdjust="spacingAndGlyphs" stroke="#595959" stroke-width="0.90" stroke-linejoin="round">80</text>
<text x="1492.15" y="1711.44" font-size="36.50" font-weight="700" fill="#595959" textLength="57.16" lengthAdjust="spacingAndGlyphs" stroke="#595959" stroke-width="0.90" stroke-linejoin="round">120</text>
<text x="1131.05" y="1431.70" font-size="30.00" font-weight="700" fill="#000" textLength="16.58" lengthAdjust="spacingAndGlyphs">b</text>
<text x="1227.25" y="1498.70" font-size="30.00" font-weight="700" fill="#000" textLength="16.58" lengthAdjust="spacingAndGlyphs">b</text>
<text x="1324.02" y="1316.40" font-size="30.00" font-weight="700" fill="#000" textLength="15.25" lengthAdjust="spacingAndGlyphs">a</text>
<text x="1418.95" y="1498.70" font-size="30.00" font-weight="700" fill="#000" textLength="16.58" lengthAdjust="spacingAndGlyphs">b</text>
<text x="1507.01" y="1405.20" font-size="30.00" font-weight="700" fill="#000" textLength="31.84" lengthAdjust="spacingAndGlyphs">ab</text>
<text x="1595.18" y="1359.31" font-size="56.92" font-weight="700" fill="#000" textLength="20.53" lengthAdjust="spacingAndGlyphs">J</text>
<text transform="translate(989.20 1653.46) rotate(-90)" x="0" y="0" font-size="30.00" fill="#595959"><tspan font-weight="700" textLength="345.25" lengthAdjust="spacingAndGlyphs">p-coumaric acid (µg/g DW)</tspan></text>
<line x1="1102.10" y1="2000.90" x2="1543.00" y2="2000.90" stroke="#d9d9d9" stroke-width="2.20" stroke-linecap="butt"/>
<rect x="1128.60" y="1851.60" width="34.90" height="148.20" fill="#bfbfbf"/>
<rect x="1216.50" y="1825.60" width="35.40" height="174.20" fill="#bfbfbf"/>
<rect x="1304.90" y="1818.10" width="35.30" height="181.70" fill="#bfbfbf"/>
<rect x="1393.30" y="1807.00" width="35.30" height="192.80" fill="#bfbfbf"/>
<rect x="1481.60" y="1802.80" width="35.40" height="197.00" fill="#bfbfbf"/>
<line x1="1145.80" y1="1831.20" x2="1145.80" y2="1871.20" stroke="#4a4a4a" stroke-width="2.30" stroke-linecap="butt"/>
<line x1="1138.90" y1="1831.20" x2="1152.70" y2="1831.20" stroke="#4a4a4a" stroke-width="2.10" stroke-linecap="round"/>
<line x1="1138.90" y1="1871.20" x2="1152.70" y2="1871.20" stroke="#4a4a4a" stroke-width="2.10" stroke-linecap="round"/>
<line x1="1234.20" y1="1805.10" x2="1234.20" y2="1845.10" stroke="#4a4a4a" stroke-width="2.30" stroke-linecap="butt"/>
<line x1="1227.30" y1="1805.10" x2="1241.10" y2="1805.10" stroke="#4a4a4a" stroke-width="2.10" stroke-linecap="round"/>
<line x1="1227.30" y1="1845.10" x2="1241.10" y2="1845.10" stroke="#4a4a4a" stroke-width="2.10" stroke-linecap="round"/>
<line x1="1322.60" y1="1798.10" x2="1322.60" y2="1838.60" stroke="#4a4a4a" stroke-width="2.30" stroke-linecap="butt"/>
<line x1="1315.70" y1="1798.10" x2="1329.50" y2="1798.10" stroke="#4a4a4a" stroke-width="2.10" stroke-linecap="round"/>
<line x1="1315.70" y1="1838.60" x2="1329.50" y2="1838.60" stroke="#4a4a4a" stroke-width="2.10" stroke-linecap="round"/>
<line x1="1410.90" y1="1787.00" x2="1410.90" y2="1827.00" stroke="#4a4a4a" stroke-width="2.30" stroke-linecap="butt"/>
<line x1="1404.00" y1="1787.00" x2="1417.80" y2="1787.00" stroke="#4a4a4a" stroke-width="2.10" stroke-linecap="round"/>
<line x1="1404.00" y1="1827.00" x2="1417.80" y2="1827.00" stroke="#4a4a4a" stroke-width="2.10" stroke-linecap="round"/>
<line x1="1499.30" y1="1783.30" x2="1499.30" y2="1823.30" stroke="#4a4a4a" stroke-width="2.30" stroke-linecap="butt"/>
<line x1="1492.40" y1="1783.30" x2="1506.20" y2="1783.30" stroke="#4a4a4a" stroke-width="2.10" stroke-linecap="round"/>
<line x1="1492.40" y1="1823.30" x2="1506.20" y2="1823.30" stroke="#4a4a4a" stroke-width="2.10" stroke-linecap="round"/>
<text x="1009.06" y="1795.74" font-size="36.50" font-weight="700" fill="#595959" textLength="57.16" lengthAdjust="spacingAndGlyphs" stroke="#595959" stroke-width="0.90" stroke-linejoin="round">300</text>
<text x="1009.06" y="1868.34" font-size="36.50" font-weight="700" fill="#595959" textLength="57.16" lengthAdjust="spacingAndGlyphs" stroke="#595959" stroke-width="0.90" stroke-linejoin="round">200</text>
<text x="1009.06" y="1939.94" font-size="36.50" font-weight="700" fill="#595959" textLength="57.16" lengthAdjust="spacingAndGlyphs" stroke="#595959" stroke-width="0.90" stroke-linejoin="round">100</text>
<text x="1047.17" y="2012.54" font-size="36.50" font-weight="700" fill="#595959" textLength="19.05" lengthAdjust="spacingAndGlyphs" stroke="#595959" stroke-width="0.90" stroke-linejoin="round">0</text>
<text x="1126.77" y="2060.24" font-size="36.50" font-weight="700" fill="#595959" textLength="38.11" lengthAdjust="spacingAndGlyphs" stroke="#595959" stroke-width="0.90" stroke-linejoin="round">10</text>
<text x="1214.90" y="2060.24" font-size="36.50" font-weight="700" fill="#595959" textLength="38.11" lengthAdjust="spacingAndGlyphs" stroke="#595959" stroke-width="0.90" stroke-linejoin="round">20</text>
<text x="1303.79" y="2060.24" font-size="36.50" font-weight="700" fill="#595959" textLength="38.11" lengthAdjust="spacingAndGlyphs" stroke="#595959" stroke-width="0.90" stroke-linejoin="round">40</text>
<text x="1391.27" y="2060.87" font-size="36.50" font-weight="700" fill="#595959" textLength="38.11" lengthAdjust="spacingAndGlyphs" stroke="#595959" stroke-width="0.90" stroke-linejoin="round">80</text>
<text x="1469.35" y="2060.24" font-size="36.50" font-weight="700" fill="#595959" textLength="57.16" lengthAdjust="spacingAndGlyphs" stroke="#595959" stroke-width="0.90" stroke-linejoin="round">120</text>
<text x="1136.15" y="1815.80" font-size="30.00" font-weight="700" fill="#000" textLength="16.58" lengthAdjust="spacingAndGlyphs">b</text>
<text x="1214.51" y="1789.80" font-size="30.00" font-weight="700" fill="#000" textLength="31.84" lengthAdjust="spacingAndGlyphs">ab</text>
<text x="1303.81" y="1791.20" font-size="30.00" font-weight="700" fill="#000" textLength="31.84" lengthAdjust="spacingAndGlyphs">ab</text>
<text x="1400.72" y="1765.60" font-size="30.00" font-weight="700" fill="#000" textLength="15.25" lengthAdjust="spacingAndGlyphs">a</text>
<text x="1491.42" y="1765.60" font-size="30.00" font-weight="700" fill="#000" textLength="15.25" lengthAdjust="spacingAndGlyphs">a</text>
<text x="1582.41" y="1794.40" font-size="53.82" font-weight="700" fill="#000" textLength="33.71" lengthAdjust="spacingAndGlyphs">K</text>
<text transform="translate(989.90 1985.85) rotate(-90)" x="0" y="0" font-size="30.00" fill="#595959"><tspan font-weight="700" textLength="217.71" lengthAdjust="spacingAndGlyphs">Rutin (µg/g DW)</tspan></text>
<line x1="1122.10" y1="2368.40" x2="1570.00" y2="2368.40" stroke="#d9d9d9" stroke-width="2.20" stroke-linecap="butt"/>
<rect x="1150.50" y="2217.20" width="35.30" height="150.10" fill="#bfbfbf"/>
<rect x="1239.80" y="2211.60" width="35.30" height="155.70" fill="#bfbfbf"/>
<rect x="1329.10" y="2229.80" width="35.30" height="137.50" fill="#bfbfbf"/>
<rect x="1418.40" y="2197.70" width="35.30" height="169.60" fill="#bfbfbf"/>
<rect x="1507.70" y="2214.00" width="35.80" height="153.30" fill="#bfbfbf"/>
<line x1="1167.70" y1="2210.20" x2="1167.70" y2="2225.10" stroke="#4a4a4a" stroke-width="2.30" stroke-linecap="butt"/>
<line x1="1160.80" y1="2210.20" x2="1174.60" y2="2210.20" stroke="#4a4a4a" stroke-width="2.10" stroke-linecap="round"/>
<line x1="1160.80" y1="2225.10" x2="1174.60" y2="2225.10" stroke="#4a4a4a" stroke-width="2.10" stroke-linecap="round"/>
<line x1="1257.00" y1="2203.70" x2="1257.00" y2="2218.60" stroke="#4a4a4a" stroke-width="2.30" stroke-linecap="butt"/>
<line x1="1250.10" y1="2203.70" x2="1263.90" y2="2203.70" stroke="#4a4a4a" stroke-width="2.10" stroke-linecap="round"/>
<line x1="1250.10" y1="2218.60" x2="1263.90" y2="2218.60" stroke="#4a4a4a" stroke-width="2.10" stroke-linecap="round"/>
<line x1="1346.30" y1="2221.40" x2="1346.30" y2="2238.10" stroke="#4a4a4a" stroke-width="2.30" stroke-linecap="butt"/>
<line x1="1339.40" y1="2221.40" x2="1353.20" y2="2221.40" stroke="#4a4a4a" stroke-width="2.10" stroke-linecap="round"/>
<line x1="1339.40" y1="2238.10" x2="1353.20" y2="2238.10" stroke="#4a4a4a" stroke-width="2.10" stroke-linecap="round"/>
<line x1="1436.00" y1="2189.30" x2="1436.00" y2="2205.60" stroke="#4a4a4a" stroke-width="2.30" stroke-linecap="butt"/>
<line x1="1429.10" y1="2189.30" x2="1442.90" y2="2189.30" stroke="#4a4a4a" stroke-width="2.10" stroke-linecap="round"/>
<line x1="1429.10" y1="2205.60" x2="1442.90" y2="2205.60" stroke="#4a4a4a" stroke-width="2.10" stroke-linecap="round"/>
<line x1="1525.40" y1="2207.00" x2="1525.40" y2="2222.30" stroke="#4a4a4a" stroke-width="2.30" stroke-linecap="butt"/>
<line x1="1518.50" y1="2207.00" x2="1532.30" y2="2207.00" stroke="#4a4a4a" stroke-width="2.10" stroke-linecap="round"/>
<line x1="1518.50" y1="2222.30" x2="1532.30" y2="2222.30" stroke="#4a4a4a" stroke-width="2.10" stroke-linecap="round"/>
<text x="1011.30" y="2124.84" font-size="36.50" font-weight="700" fill="#595959" textLength="76.22" lengthAdjust="spacingAndGlyphs" stroke="#595959" stroke-width="0.90" stroke-linejoin="round">3000</text>
<text x="1011.30" y="2209.94" font-size="36.50" font-weight="700" fill="#595959" textLength="76.22" lengthAdjust="spacingAndGlyphs" stroke="#595959" stroke-width="0.90" stroke-linejoin="round">2000</text>
<text x="1011.30" y="2294.64" font-size="36.50" font-weight="700" fill="#595959" textLength="76.22" lengthAdjust="spacingAndGlyphs" stroke="#595959" stroke-width="0.90" stroke-linejoin="round">1000</text>
<text x="1068.47" y="2379.24" font-size="36.50" font-weight="700" fill="#595959" textLength="19.05" lengthAdjust="spacingAndGlyphs" stroke="#595959" stroke-width="0.90" stroke-linejoin="round">0</text>
<text x="1147.77" y="2426.64" font-size="36.50" font-weight="700" fill="#595959" textLength="38.11" lengthAdjust="spacingAndGlyphs" stroke="#595959" stroke-width="0.90" stroke-linejoin="round">10</text>
<text x="1237.70" y="2426.64" font-size="36.50" font-weight="700" fill="#595959" textLength="38.11" lengthAdjust="spacingAndGlyphs" stroke="#595959" stroke-width="0.90" stroke-linejoin="round">20</text>
<text x="1327.49" y="2426.64" font-size="36.50" font-weight="700" fill="#595959" textLength="38.11" lengthAdjust="spacingAndGlyphs" stroke="#595959" stroke-width="0.90" stroke-linejoin="round">40</text>
<text x="1416.77" y="2427.27" font-size="36.50" font-weight="700" fill="#595959" textLength="38.11" lengthAdjust="spacingAndGlyphs" stroke="#595959" stroke-width="0.90" stroke-linejoin="round">80</text>
<text x="1496.35" y="2426.64" font-size="36.50" font-weight="700" fill="#595959" textLength="57.16" lengthAdjust="spacingAndGlyphs" stroke="#595959" stroke-width="0.90" stroke-linejoin="round">120</text>
<text x="1140.01" y="2168.40" font-size="30.00" font-weight="700" fill="#000" textLength="31.84" lengthAdjust="spacingAndGlyphs">ab</text>
<text x="1229.81" y="2167.00" font-size="30.00" font-weight="700" fill="#000" textLength="31.84" lengthAdjust="spacingAndGlyphs">ab</text>
<text x="1336.65" y="2197.70" font-size="30.00" font-weight="700" fill="#000" textLength="16.58" lengthAdjust="spacingAndGlyphs">b</text>
<text x="1431.02" y="2154.40" font-size="30.00" font-weight="700" fill="#000" textLength="15.25" lengthAdjust="spacingAndGlyphs">a</text>
<text x="1509.81" y="2173.00" font-size="30.00" font-weight="700" fill="#000" textLength="31.84" lengthAdjust="spacingAndGlyphs">ab</text>
<text x="1600.25" y="2145.10" font-size="57.37" font-weight="700" fill="#000" textLength="26.08" lengthAdjust="spacingAndGlyphs">L</text>
<text transform="translate(991.20 2398.49) rotate(-90)" x="0" y="0" font-size="30.00" fill="#595959"><tspan font-weight="700" textLength="273.51" lengthAdjust="spacingAndGlyphs">Quercetin (µg/g DW)</tspan></text>
<rect x="3.00" y="63.00" width="1681.00" height="3.00" fill="#767676"/>
<rect x="3.00" y="875.50" width="1681.00" height="3.00" fill="#767676"/>
<rect x="3.00" y="63.00" width="3.00" height="815.50" fill="#767676"/>
<rect x="1681.00" y="63.00" width="3.00" height="815.50" fill="#767676"/>
<rect x="3.00" y="885.60" width="1681.00" height="3.00" fill="#767676"/>
<rect x="3.00" y="1241.50" width="1681.00" height="3.00" fill="#767676"/>
<rect x="3.00" y="885.60" width="3.00" height="358.90" fill="#767676"/>
<rect x="1681.00" y="885.60" width="3.00" height="358.90" fill="#767676"/>
<rect x="3.00" y="1252.30" width="1681.00" height="3.00" fill="#767676"/>
<rect x="3.00" y="2437.50" width="1681.00" height="3.00" fill="#767676"/>
<rect x="3.00" y="1252.30" width="3.00" height="1188.20" fill="#767676"/>
<rect x="1681.00" y="1252.30" width="3.00" height="1188.20" fill="#767676"/>
<text x="152.49" y="45.30" font-size="60.00" font-weight="700" fill="#000" textLength="436.82" lengthAdjust="spacingAndGlyphs">Field experiment</text>
<text x="1034.51" y="45.90" font-size="60.50" font-weight="700" fill="#000" textLength="400.40" lengthAdjust="spacingAndGlyphs">Pot experiment</text>
<text x="360.91" y="2474.50" font-size="34.40" font-weight="700" fill="#000" textLength="218.69" lengthAdjust="spacingAndGlyphs">N fertilization</text>
<text x="1235.01" y="2467.60" font-size="34.40" font-weight="700" fill="#000" textLength="219.00" lengthAdjust="spacingAndGlyphs">N fertilization</text>
</svg>
</body></html>
